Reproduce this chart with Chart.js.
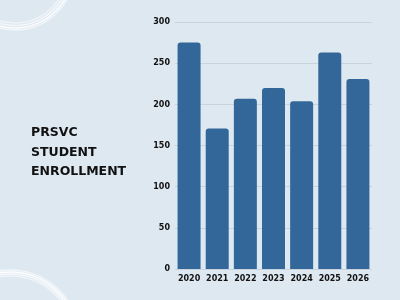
<!DOCTYPE html>
<html>
<head>
<meta charset="utf-8">
<script src="https://cdn.jsdelivr.net/npm/chart.js@4/dist/chart.umd.min.js"></script>
<style>
  html, body { margin: 0; padding: 0; }
  body { width: 400px; height: 300px; background: #dee8f1; position: relative; overflow: hidden; }
  #wrap { position: absolute; left: 0; top: 0; width: 400px; height: 300px; }
  #title { position: absolute; left: 31px; top: 122px; font-family: "DejaVu Sans", sans-serif; font-weight: bold; font-size: 12.5px; line-height: 19.5px; color: #111; }
</style>
</head>
<body>
<div id="wrap"><canvas id="c" width="400" height="300"></canvas></div>
<div id="title">PRSVC<br>STUDENT<br>ENROLLMENT</div>
<script>
const categories = ["2020", "2021", "2022", "2023", "2024", "2025", "2026"];
const enrollment = [275, 171, 207, 220, 204, 263, 231];
const yTicks = [0, 50, 100, 150, 200, 250, 300];

const arcs = {
  id: 'arcs',
  beforeDraw(chart) {
    const ctx = chart.ctx;
    ctx.save();
    const rings = [
      {cx: 15, cy: -29, r: [52, 54.5, 57, 59], a: [0.5, 0.7, 0.9, 0.6]},
      {cx: 10, cy: 340, r: [64, 66, 68, 70], a: [0.5, 0.7, 0.9, 0.6]}
    ];
    rings.forEach(g => {
      g.r.forEach((r, i) => {
        ctx.beginPath();
        ctx.arc(g.cx, g.cy, r, 0, Math.PI * 2);
        ctx.strokeStyle = 'rgba(255,255,255,' + g.a[i] + ')';
        ctx.lineWidth = 1.6;
        ctx.stroke();
      });
    });
    ctx.restore();
  }
};

new Chart(document.getElementById('c'), {
  type: 'bar',
  data: {
    labels: categories,
    datasets: [{
      data: enrollment,
      backgroundColor: '#336799',
      borderRadius: {topLeft: 3, topRight: 3, bottomLeft: 0, bottomRight: 0},
      borderSkipped: 'bottom',
      categoryPercentage: 0.817,
      barPercentage: 1
    }]
  },
  plugins: [arcs],
  options: {
    responsive: false,
    animation: false,
    devicePixelRatio: 1,
    layout: { padding: { left: 139, right: 28, top: 22, bottom: 11 } },
    plugins: { legend: { display: false }, tooltip: { enabled: false } },
    scales: {
      x: {
        grid: { display: false, drawTicks: false },
        border: { display: false },
        ticks: { color: '#111', padding: 5, autoSkip: false, maxRotation: 0, font: { family: 'DejaVu Sans', weight: 'bold', size: 8 } }
      },
      y: {
        min: 0, max: 300,
        afterBuildTicks(s) { s.ticks = yTicks.map(v => ({ value: v })); },
        grid: { color: '#c8d3de', lineWidth: 1, drawTicks: false },
        border: { display: false },
        ticks: { color: '#111', padding: 5, font: { family: 'DejaVu Sans', weight: 'bold', size: 8 } },
        afterFit(s) { s.width = 36; }
      }
    }
  }
});
</script>
</body>
</html>
